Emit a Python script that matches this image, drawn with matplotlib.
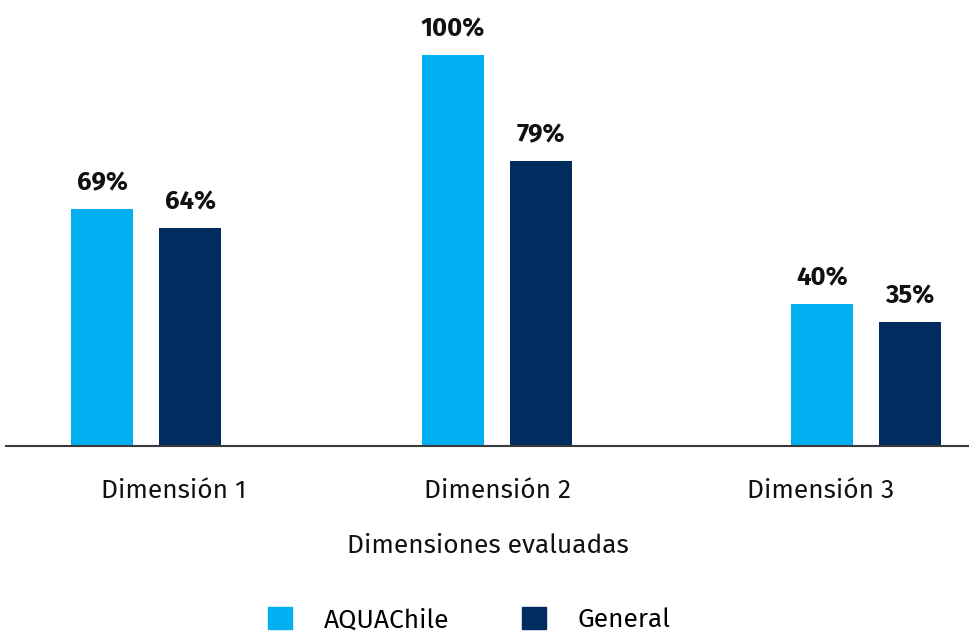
import matplotlib.pyplot as plt
from matplotlib.patches import Patch

# data
categories = ["Dimensión 1", "Dimensión 2", "Dimensión 3"]
series_names = ["AQUAChile", "General"]
# bar heights as drawn in the picture (relative to the 100% bar)
aquachile_height = [60.6, 100.0, 36.3]
general_height = [55.8, 72.9, 31.7]
# values printed above the bars
aquachile_labels = ["69%", "100%", "40%"]
general_labels = ["64%", "79%", "35%"]

colors = ["#00B0F0", "#002C5F"]

plt.rcParams['font.family'] = ['Fira Sans', 'Noto Sans', 'DejaVu Sans']

W, H = 969, 631
fig = plt.figure(figsize=(W / 100, H / 100), dpi=100)
ax = fig.add_axes([6 / W, 1 - 446 / H, 963 / W, 446 / H])

# layout: group shifts and bar geometry (in category units)
px = 323.5
group_shift = [-28 / px, -1 / px, 45 / px]
bar_w = 62 / px
gap = 88 / px
lab_off = 3.4

for i, cat in enumerate(categories):
    c = i + group_shift[i]
    x1 = c - gap / 2
    x2 = c + gap / 2
    ax.bar(x1, aquachile_height[i], width=bar_w, color=colors[0])
    ax.bar(x2, general_height[i], width=bar_w, color=colors[1])
    ax.text(x1, aquachile_height[i] + lab_off, aquachile_labels[i], ha='center', va='bottom',
            fontsize=18.5, fontweight='bold', color='#111111')
    ax.text(x2, general_height[i] + lab_off, general_labels[i], ha='center', va='bottom',
            fontsize=18.5, fontweight='bold', color='#111111')

ax.set_xlim((6 - 174) / px, (969 - 174) / px)
ax.set_ylim(0, 100 * 446 / 391)

for s in ['top', 'right', 'left']:
    ax.spines[s].set_visible(False)
ax.spines['bottom'].set_color('#3a3a3a')
ax.spines['bottom'].set_linewidth(1.5)
ax.set_yticks([])
ax.set_xticks(range(len(categories)))
ax.set_xticklabels(categories, fontsize=19, color='#111111')
ax.tick_params(axis='x', length=0, pad=23)
ax.set_xlabel("Dimensiones evaluadas", fontsize=19, color='#111111', labelpad=22)

handles = [Patch(color=colors[0]), Patch(color=colors[1])]
fig.legend(handles, series_names, loc='center', bbox_to_anchor=(469 / W, 1 - 620 / H),
           ncol=2, frameon=False, fontsize=19, handlelength=0.91, handleheight=0.91,
           handletextpad=1.2, columnspacing=2.75)

fig.savefig("out.png", dpi=100)
